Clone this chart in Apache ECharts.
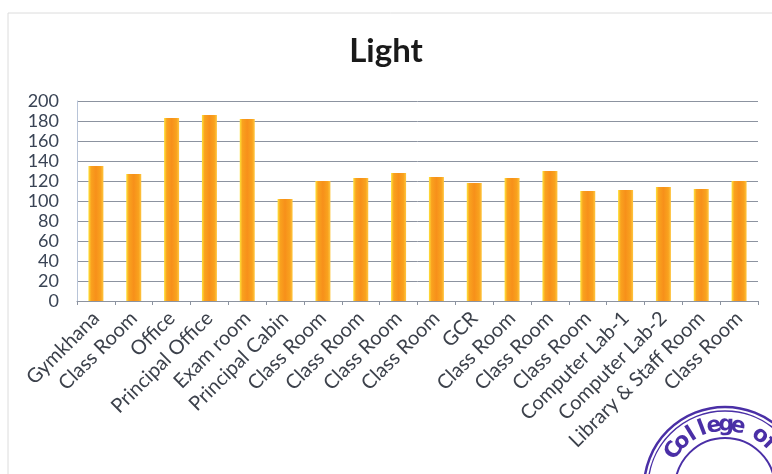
<!DOCTYPE html>
<html>
<head>
<meta charset="utf-8">
<script src="https://cdn.jsdelivr.net/npm/echarts@6/dist/echarts.min.js"></script>
<style>
html,body{margin:0;padding:0;background:#fff;}
#chart{width:772px;height:474px;}
</style>
</head>
<body>
<div id="chart"></div>
<script>
var titleText = 'Light';
var categories = ['Gymkhana','Class Room','Office','Principal Office','Exam room','Principal Cabin','Class Room','Class Room','Class Room','Class Room','GCR','Class Room','Class Room','Class Room','Computer Lab-1','Computer Lab-2','Library & Staff Room','Class Room'];
var values = [135, 127, 183, 186, 182, 102, 120, 123, 128, 124, 118, 123, 130, 110, 111, 114, 112, 120];
var yTicks = [0, 200, 20];
var stampText = 'College of';

var chart = echarts.init(document.getElementById('chart'));

// decorative stamp (scanned document artifact)
var stampColor = '#4a2fa6';
var cx = 725, cy = 488;
var stampEls = [
  {type:'circle', shape:{cx:cx, cy:cy, r:81}, style:{fill:'none', stroke:stampColor, lineWidth:2.5}, z:10},
  {type:'circle', shape:{cx:cx, cy:cy, r:77}, style:{fill:'none', stroke:stampColor, lineWidth:1.5}, z:10},
  {type:'circle', shape:{cx:cx, cy:cy, r:50}, style:{fill:'none', stroke:stampColor, lineWidth:2}, z:10}
];
var chars = stampText.split('');
var a0 = -54, step = 11;
chars.forEach(function(ch, i){
  var deg = a0 + i * step;
  var rad = deg * Math.PI / 180;
  var r = 63;
  stampEls.push({
    type:'text', z:11,
    x: cx + r * Math.sin(rad), y: cy - r * Math.cos(rad),
    rotation: -rad,
    style:{text: ch, fill: stampColor, font: 'bold 22px "DejaVu Sans"', align:'center', verticalAlign:'middle'}
  });
});

var option = {
  backgroundColor: '#ffffff',
  animation: false,
  title: {
    text: titleText,
    left: 'center',
    top: 30,
    textStyle: {fontFamily: 'Lato', fontWeight: 'bold', fontSize: 33, color: '#1a1a1a'}
  },
  graphic: [
    {type:'rect', shape:{x:8, y:13, width:800, height:520}, style:{fill:'none', stroke:'#dcdcdc', lineWidth:1}, z:0}
  ].concat(stampEls),
  grid: {left: 77, right: 14, top: 101, bottom: 173},
  xAxis: {
    type: 'category',
    data: categories,
    boundaryGap: true,
    axisLine: {show: true, lineStyle: {color: '#8c93a0', width: 1}},
    axisTick: {show: true, alignWithLabel: false, length: 4, lineStyle: {color: '#8c93a0'}},
    axisLabel: {
      interval: 0, rotate: 45, margin: 14,
      fontFamily: 'Lato', fontSize: 20, color: '#3c414b'
    }
  },
  yAxis: {
    type: 'value',
    min: yTicks[0], max: yTicks[1], interval: yTicks[2],
    axisLine: {show: true, lineStyle: {color: '#b8c4d8', width: 1}},
    axisTick: {show: false},
    axisLabel: {fontFamily: 'Lato', fontSize: 18, color: '#3a4455', margin: 18},
    splitLine: {show: true, lineStyle: {color: '#8c93a0', width: 1}}
  },
  series: [{
    type: 'bar',
    data: values,
    barWidth: 15,
    itemStyle: {
      color: new echarts.graphic.LinearGradient(0, 0, 1, 0, [
        {offset: 0, color: '#ffe23a'},
        {offset: 0.18, color: '#f9a21e'},
        {offset: 0.5, color: '#f7901a'},
        {offset: 0.82, color: '#f9a21e'},
        {offset: 1, color: '#ffc640'}
      ])
    }
  }]
};
chart.setOption(option);
</script>
</body>
</html>
